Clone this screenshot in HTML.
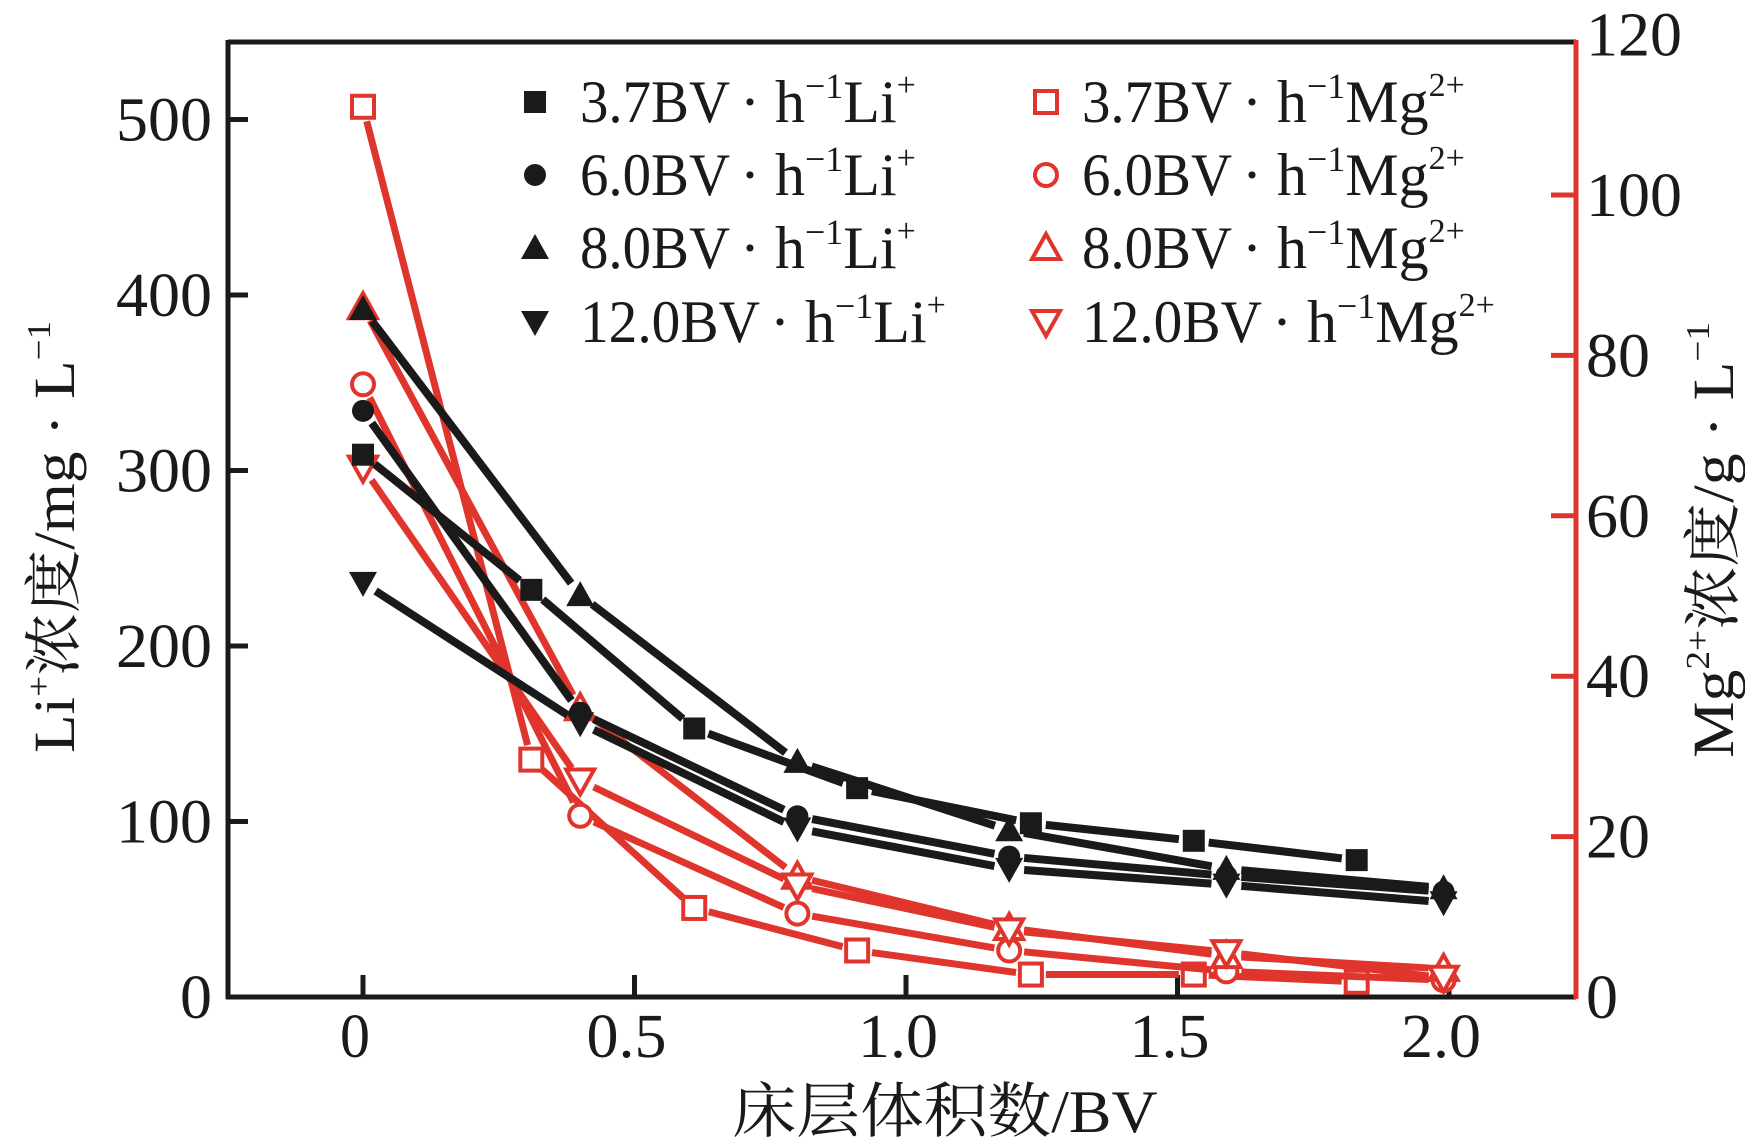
<!DOCTYPE html>
<html><head><meta charset="utf-8"><style>
html,body{margin:0;padding:0;background:#fff;}
svg{display:block;}
text{font-family:"Liberation Serif","Noto Serif CJK SC",serif;fill:#1a1a1a;}
</style></head><body>
<svg id="chart" width="1745" height="1145" viewBox="0 0 1745 1145" xmlns="http://www.w3.org/2000/svg">
<g id="plot"></g>
<text x="945" y="1132" font-size="60" text-anchor="middle" textLength="425" lengthAdjust="spacingAndGlyphs">床层体积数/BV</text>
<text transform="translate(74,537) rotate(-90)" font-size="58" text-anchor="middle" textLength="432" lengthAdjust="spacingAndGlyphs">Li<tspan font-size="34" dy="-24">+</tspan><tspan dy="24">浓度/mg · L</tspan><tspan font-size="34" dy="-24">−1</tspan></text>
<text transform="translate(1733,540) rotate(-90)" font-size="58" text-anchor="middle" textLength="436" lengthAdjust="spacingAndGlyphs">Mg<tspan font-size="34" dy="-24">2+</tspan><tspan dy="24">浓度/g · L</tspan><tspan font-size="34" dy="-24">−1</tspan></text>
</svg>
<script>
const xVals = [0, 0.31, 0.61, 0.91, 1.23, 1.53, 1.83];
const xVals6 = [0, 0.40, 0.80, 1.19, 1.59, 1.99];
const li37 = [309, 232, 153, 119, 99, 89, 78];
const li60 = [334, 162, 103, 80, 69, 60];
const li80 = [392, 229, 134, 95, 73, 62];
const li120 = [236, 156, 96, 73, 64, 54];
const mg37 = [111, 29.6, 11.1, 5.8, 2.8, 2.8, 1.9];
const mg60 = [76.4, 22.6, 10.4, 5.8, 3.2, 2.1];
const mg80 = [86, 36, 15, 8.6, 5.1, 3.5];
const mg120 = [66, 27, 13.9, 8.3, 5.6, 2.4];
const xTicks = [0, 0.5, 1.0, 1.5, 2.0];
const xTickLabels = ["0", "0.5", "1.0", "1.5", "2.0"];
const yLeftTicks = [0, 100, 200, 300, 400, 500];
const yRightTicks = [0, 20, 40, 60, 80, 100, 120];
const legendLabels = ["3.7BV", "6.0BV", "8.0BV", "12.0BV"];

const NS = "http://www.w3.org/2000/svg";
const L = 228, R = 1576, T = 42, B = 997;
const X = v => 363 + v * 543;
const YL = v => 997 - v * 1.755;
const YR = v => 997 - v * 8.02;
const BLACK = "#1a1a1a", RED = "#e0352c";
const g = document.getElementById('plot');
function mk(tag, attrs, parent) {
  const e = document.createElementNS(NS, tag);
  for (const k in attrs) e.setAttribute(k, attrs[k]);
  (parent || g).appendChild(e);
  return e;
}
// axes
let e;
e = mk('line', {x1: L, y1: T, x2: R, y2: T, stroke: BLACK, 'stroke-width': 5});


e = mk('line', {x1: L, y1: T - 2, x2: L, y2: B + 2, stroke: BLACK, 'stroke-width': 5});


e = mk('line', {x1: L - 2, y1: B, x2: R, y2: B, stroke: BLACK, 'stroke-width': 5});


e = mk('line', {x1: R, y1: T - 2, x2: R, y2: B + 2, stroke: RED, 'stroke-width': 5});



xTicks.forEach((v, i) => {
  const t = mk('line', {x1: X(v), y1: B, x2: X(v), y2: B - 22, stroke: BLACK, 'stroke-width': 5});
  
  
  const s = xTickLabels[i];
  const tx = mk('text', {x: X(v) - 8, y: 1057, 'font-size': 62, 'text-anchor': 'middle', textLength: s.length > 1 ? 80 : 30, lengthAdjust: 'spacingAndGlyphs'});
  tx.textContent = s;
  
  
});
yLeftTicks.forEach(v => {
  if (v > 0) {
    const t = mk('line', {x1: L, y1: YL(v), x2: L + 20, y2: YL(v), stroke: BLACK, 'stroke-width': 5});
    
    
  }
  const s = String(v);
  const tx = mk('text', {x: 212, y: YL(v) + 21, 'font-size': 62, 'text-anchor': 'end', textLength: s.length * 32, lengthAdjust: 'spacingAndGlyphs'});
  tx.textContent = s;
  
  
});
yRightTicks.forEach(v => {
  if (v > 0 && v < 120) {
    const t = mk('line', {x1: R, y1: YR(v), x2: R - 25, y2: YR(v), stroke: RED, 'stroke-width': 5});
    
    
  }
  const s = String(v);
  const tx = mk('text', {x: 1586, y: YR(v) + 21, 'font-size': 62, 'text-anchor': 'start', textLength: s.length * 32, lengthAdjust: 'spacingAndGlyphs'});
  tx.textContent = s;
  
  
});

function marker(shape, cx, cy, color, filled, parent) {
  const fill = filled ? color : '#fff';
  const sw = filled ? 0 : 4;
  let m;
  if (shape === 'square') m = mk('rect', {x: cx - 11, y: cy - 11, width: 22, height: 22, fill, stroke: color, 'stroke-width': sw}, parent);
  else if (shape === 'circle') m = mk('circle', {cx, cy, r: 11, fill, stroke: color, 'stroke-width': sw}, parent);
  else if (shape === 'up') m = mk('polygon', {points: `${cx},${cy-14} ${cx+14},${cy+11} ${cx-14},${cy+11}`, fill, stroke: color, 'stroke-width': sw}, parent);
  else m = mk('polygon', {points: `${cx},${cy+14} ${cx+14},${cy-11} ${cx-14},${cy-11}`, fill, stroke: color, 'stroke-width': sw}, parent);
  return m;
}
function series(name, xs, ys, yf, shape, color, filled, w) {
  const sg = mk('g', {});
  
  
  const pts = xs.map((x, i) => [X(x), yf(ys[i])]);
  for (let i = 0; i < pts.length - 1; i++) {
    const [x1, y1] = pts[i], [x2, y2] = pts[i + 1];
    const d = Math.hypot(x2 - x1, y2 - y1), gp = 15 / d;
    const ln = mk('line', {x1: x1 + (x2 - x1) * gp, y1: y1 + (y2 - y1) * gp, x2: x2 - (x2 - x1) * gp, y2: y2 - (y2 - y1) * gp, stroke: color, 'stroke-width': w}, sg);
    
    
  }
  pts.forEach(p => {
    const m = marker(shape, p[0], p[1], color, filled, sg);
    
    
  });
}
series('mg-3-7-series', xVals, mg37, YR, 'square', RED, false, 7);
series('mg-6-0-series', xVals6, mg60, YR, 'circle', RED, false, 7);
series('mg-8-0-series', xVals6, mg80, YR, 'up', RED, false, 7);
series('mg-12-0-series', xVals6, mg120, YR, 'down', RED, false, 7);
series('li-3-7-series', xVals, li37, YL, 'square', BLACK, true, 8);
series('li-6-0-series', xVals6, li60, YL, 'circle', BLACK, true, 8);
series('li-8-0-series', xVals6, li80, YL, 'up', BLACK, true, 8);
series('li-12-0-series', xVals6, li120, YL, 'down', BLACK, true, 8);

// legend
const shapes = ['square', 'circle', 'up', 'down'];
const rowsY = [122, 195, 268, 342];
const lg = mk('g', {});


legendLabels.forEach((lab, i) => {
  const y = rowsY[i];
  const big = lab.length > 5 ? 30 : 0;
  let m = marker(shapes[i], 535, y - 20, BLACK, true, lg);
  
  
  let t = mk('text', {x: 580, y, 'font-size': 60}, lg);
  t.innerHTML = `<tspan textLength="${150 + big}" lengthAdjust="spacingAndGlyphs">${lab}</tspan><tspan dx="10">· h</tspan><tspan font-size="36" dy="-24">−1</tspan><tspan dy="24">Li</tspan><tspan font-size="34" dy="-26">+</tspan>`;
  
  
  m = marker(shapes[i], 1046, y - 20, RED, false, lg);
  
  
  t = mk('text', {x: 1082, y, 'font-size': 60}, lg);
  t.innerHTML = `<tspan textLength="${150 + big}" lengthAdjust="spacingAndGlyphs">${lab}</tspan><tspan dx="10">· h</tspan><tspan font-size="36" dy="-24">−1</tspan><tspan dy="24">Mg</tspan><tspan font-size="34" dy="-26">2+</tspan>`;
  
  
});
</script>
</body></html>
